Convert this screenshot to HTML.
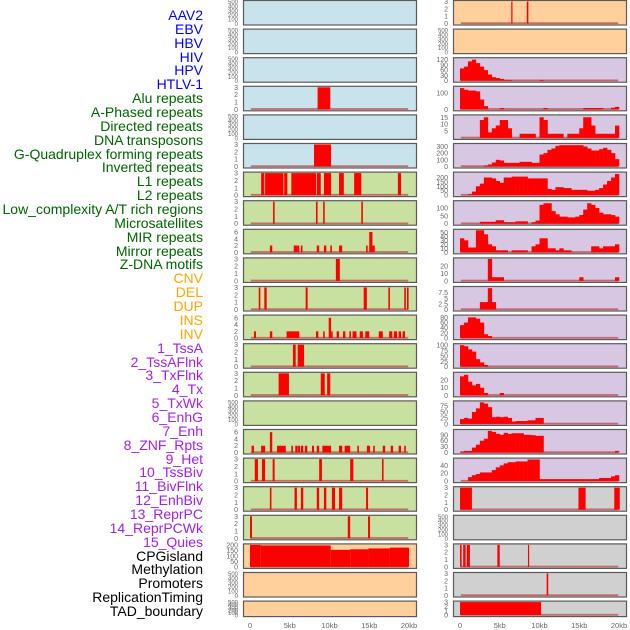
<!DOCTYPE html>
<html><head><meta charset="utf-8">
<style>
html,body{margin:0;padding:0;background:#fff;}
body{width:630px;height:630px;overflow:hidden;position:relative;font-family:"Liberation Sans",sans-serif;}
#labels div{position:absolute;right:427px;font-size:14px;line-height:14px;white-space:nowrap;}
svg{position:absolute;left:0;top:0;}
</style></head>
<body>
<div id="labels"></div>
<svg id="chart" width="630" height="630"></svg>
<script>
const trackNames = ["AAV2","EBV","HBV","HIV","HPV","HTLV-1","Alu repeats","A-Phased repeats","Directed repeats","DNA transposons","G-Quadruplex forming repeats","Inverted repeats","L1 repeats","L2 repeats","Low_complexity A/T rich regions","Microsatellites","MIR repeats","Mirror repeats","Z-DNA motifs","CNV","DEL","DUP","INS","INV","1_TssA","2_TssAFlnk","3_TxFlnk","4_Tx","5_TxWk","6_EnhG","7_Enh","8_ZNF_Rpts","9_Het","10_TssBiv","11_BivFlnk","12_EnhBiv","13_ReprPC","14_ReprPCWk","15_Quies","CPGisland","Methylation","Promoters","ReplicationTiming","TAD_boundary"];
const trackGroups = [0,0,0,0,0,0,1,1,1,1,1,1,1,1,1,1,1,1,1,2,2,2,2,2,3,3,3,3,3,3,3,3,3,3,3,3,3,3,3,4,4,4,4,4];
const groupColors = ["#0000ff","#006400","#ffa500","#a020f0","#000000"];

const xTicks = [0,5,10,15,20];
const xTickLabels = ["0","5kb","10kb","15kb","20kb"];

// left column
const leftBg = ["b","b","b","b","b","b","g","g","g","g","g","g","g","g","g","g","g","g","g","p","p","p"];
const leftYmax = [500,500,500,3,500,3,3,3,6.5,3,3,6.5,3,3,500,6.5,3,3,3,200,500,500];
const leftTicks = [[0,100,200,300,400,500],[0,100,200,300,400,500],[0,100,200,300,400,500],[0,1,2,3],[0,100,200,300,400,500],[0,1,2,3],[0,1,2,3],[0,1,2,3],[0,2,4,6],[0,1,2,3],[0,1,2,3],[0,2,4,6],[0,1,2,3],[0,1,2,3],[0,100,200,300,400,500],[0,2,4,6],[0,1,2,3],[0,1,2,3],[0,1,2,3],[0,50,100,150,200],[0,100,200,300,400,500],[0,100,200,300,400,500]];
const leftSegs = [
 [],[],[],
 [[8.5,10.1,3]],
 [],
 [[8.05,10.2,3]],
 [[1.4,1.8,3],[1.9,4.2,3],[4.3,4.7,3],[5.2,8.3,3],[8.4,8.9,3],[9.3,10.2,3],[11.2,11.8,3],[13.1,14,3],[18.6,19,3]],
 [[2.9,3.1,3],[8.3,8.5,3],[9.2,9.4,3],[14,14.2,3]],
 [[2.5,2.8,2],[5.5,6,2],[6,6.2,2],[6.4,6.6,2],[8.4,8.7,2],[9.3,9.6,2],[10.1,10.3,2],[11.2,11.6,2],[14.6,14.8,2],[15,15.4,6],[15.4,15.7,2]],
 [[10.8,11.3,3]],
 [[1.1,1.3,3],[1.8,2.1,3],[7,7.25,3],[14.3,14.7,3],[17.4,17.6,3],[19.4,19.6,3],[19.75,19.95,3]],
 [[0.5,0.75,2],[2.5,2.8,2],[4.6,6.2,2],[8.3,8.6,2],[9.2,9.4,2],[9.9,10.2,6],[10.2,10.4,2],[10.9,11.2,2],[11.7,12,2],[12.5,12.7,2],[12.9,13.4,2],[13.8,14.2,2],[14.5,15,2],[16.2,16.7,2],[17.5,17.9,2],[18.1,18.5,2],[18.7,19,2],[19.2,19.5,2]],
 [[5.4,5.75,3],[6,6.8,3]],
 [[3.6,4.9,3],[8.9,9.4,3],[9.7,10.1,3]],
 [],
 [[0.2,0.5,2],[1.4,1.9,2],[2.5,2.8,6],[3.4,4.5,2],[5.2,5.4,2],[5.7,6,2],[6.05,6.3,2],[6.4,6.7,2],[6.9,7.2,2],[7.8,8.05,2],[8.4,8.7,2],[9.1,10.2,2],[11.2,11.6,2],[11.9,12.6,2],[13.5,13.7,2],[14.7,15.1,2],[15.5,15.7,2],[16.7,17,2],[17.7,18,2],[18.7,19,2],[19.4,19.6,2]],
 [[0.6,1,3],[1.5,1.9,3],[2.85,3.1,3],[8.7,9.05,3],[12.6,13,3],[16.6,16.8,3]],
 [[2.5,2.7,3],[5.6,5.9,3],[6.4,6.7,3],[8.4,8.7,3],[9.3,9.6,3],[10.3,10.7,3],[11.2,11.6,3],[14.6,14.85,3]],
 [[0,0.25,3],[12.3,12.6,3],[14.85,15.1,3]],
 [[0,1.35,200],[1.35,10.15,195],[10.15,12.6,155],[12.6,14.9,160],[14.9,17.6,168],[17.6,20,175]],
 [],[]
];

// right column
const rightBg = ["p","p","l","l","l","l","l","l","l","l","l","l","l","l","l","l","l","y","y","y","y","y"];
const rightYmax = [3,500,125,135,16,330,250,140,55,30,9.8,85,102,29,92,112,56,3,500,3,3,3];
const rightTicks = [[0,1,2,3],[0,100,200,300,400,500],[0,30,60,90,120],[0,100],[5,10,15],[0,100,200,300],[0,50,100,150,200],[0,50,100],[0,10,20,30,40,50],[0,10,20],[0,2.5,5,7.5],[0,20,40,60,80],[0,25,50,75,100],[0,10,20],[0,25,50,75],[0,30,60,90],[0,20,40],[0,1,2,3],[0,100,200,300,400,500],[0,1,2,3],[0,1,2,3],[0,1,2,3]];
const rightSegs = {
 0:[[6.45,6.6,3],[8.4,8.6,3]],
 17:[[0,1.5,3],[14.9,15.8,3],[19.4,20.1,3]],
 19:[[0,0.2,3],[0.4,0.7,3],[0.85,1.25,3],[4.7,5,3],[8.55,8.7,3]],
 20:[[10.9,11.1,3]],
 21:[[0,10.2,3]]
};
// histogram values in 0.5kb bins (40 bins, 0-20kb)
const hist2 = [70,80,110,120,100,80,60,35,20,15,10,5,4,0,0,0,0,0,0,0,4,0,0,0,0,0,0,0,0,0,0,0,0,0,0,0,0,0,0,0];
const hist3 = [130,120,115,115,110,60,20,0,0,0,8,0,0,0,0,0,0,0,0,0,0,8,0,0,0,0,0,0,0,0,0,8,8,8,8,8,0,0,10,15];
const hist4 = [0,0,0,0,0,13,15,4,7,9,13,13,7,0,0,3,3,3,3,0,15,13,3,3,3,3,0,3,3,3,7,15,15,9,3,3,3,3,3,9];
const hist5 = [0,0,0,0,0,0,15,30,60,100,90,55,55,55,55,70,70,70,55,55,180,200,250,270,310,320,320,320,320,320,320,300,270,240,240,260,280,250,200,110];
const hist6 = [0,0,10,40,100,130,200,200,190,160,140,200,200,210,210,210,210,190,190,190,190,190,70,60,90,90,80,80,60,60,60,60,50,50,60,80,120,160,200,240];
const hist7 = [0,0,0,0,0,12,12,12,12,22,22,10,10,10,15,15,15,0,10,20,120,130,130,80,60,45,45,40,40,45,55,90,130,120,100,70,60,60,55,45];
const hist8 = [35,30,12,12,55,55,45,20,15,5,5,5,0,5,5,5,5,0,15,20,35,35,10,10,5,10,5,5,0,0,0,0,0,15,15,10,15,15,15,20];
const hist9 = [0,0,0,0,0,0,0,30,5,5,5,0,0,0,0,0,0,0,0,0,0,0,0,0,0,0,0,0,0,0,5,0,0,0,0,0,0,0,0,5];
const hist10 = [0,0,0,0,0,3.3,3.3,9.5,3.3,0,0,0,0,0,0,0,0,0,0,0,0,0,0,0,0,0,0,0,0,0,0,0,0,0,0,0,0,0,0,0];
const hist11 = [50,60,80,80,75,60,15,8,0,0,0,0,0,0,0,0,0,0,0,0,0,0,0,0,0,0,0,0,0,0,0,0,0,0,0,0,0,0,0,0];
const hist12 = [100,95,80,70,35,20,8,0,0,0,0,0,0,0,0,0,0,0,0,0,0,0,0,0,0,0,0,0,0,0,0,0,0,0,0,0,0,0,0,0];
const hist13 = [25,27,18,13,15,10,3,0,0,0,3,0,0,0,0,0,0,0,0,0,0,0,0,0,0,0,0,0,0,0,0,0,0,0,0,0,0,0,0,0];
const hist14 = [20,25,22,50,65,90,85,70,28,30,28,30,25,10,12,12,12,15,15,25,25,0,0,0,0,0,0,0,0,0,0,0,0,0,0,0,0,0,0,0];
const hist15 = [5,8,8,25,40,60,70,110,105,95,90,100,95,98,98,98,90,90,88,85,85,0,0,0,0,0,0,0,0,0,0,0,0,0,0,0,0,0,0,8];
const hist16 = [0,0,10,15,18,22,22,22,28,35,40,45,48,48,50,50,50,55,55,55,5,5,5,5,5,5,5,5,5,5,5,5,5,5,5,8,8,8,12,15];
const rightHists = {2:hist2,3:hist3,4:hist4,5:hist5,6:hist6,7:hist7,8:hist8,9:hist9,10:hist10,11:hist11,12:hist12,13:hist13,14:hist14,15:hist15,16:hist16};

const bgColors = {b:"#c8e3eb",g:"#c8e0a0",p:"#ffd09c",l:"#d7c7e3",y:"#d0d0d0"};
const NS = "http://www.w3.org/2000/svg";
const svg = document.getElementById("chart");
function rowTop(i){ return 0.5 + i*28.6; }
function rowH(i){ return i===21 ? 15.5 : 24.5; }
function xScale(col, kb){ return (col===0?250:460) + kb*7.95; }
function yScale(i, ymax, v){ const t=rowTop(i)+1, b=rowTop(i)+rowH(i)-1.5; return b - (v/ymax)*(b-t); }
function mk(tag, attrs){ const e=document.createElementNS(NS,tag); for(const k in attrs) e.setAttribute(k,attrs[k]); svg.appendChild(e); return e; }

// labels
const lab = document.getElementById("labels");
trackNames.forEach((n,i)=>{
  const d=document.createElement("div");
  d.textContent=n;
  d.style.top=(8+i*13.86)+"px";
  d.style.color=groupColors[trackGroups[i]];
  
  
  lab.appendChild(d);
});

function drawPanel(col, i, bg, ymax, ticks, segs, hist){
  const x0 = col===0?243:453;
  const top=rowTop(i), h=rowH(i);
  const r = mk("rect",{x:x0+0.5,y:top,width:173,height:h,fill:bgColors[bg],stroke:"#5a5a5a","stroke-width":1.2});
  
  
  ticks.forEach(tv=>{
    const t = mk("text",{x:x0-5,y:yScale(i,ymax,tv)+2.5,"font-size":ymax>=500?6:7,fill:"#666","text-anchor":"end","font-family":"Liberation Sans, sans-serif"});
    t.textContent = String(tv);
    
    
  });
  const hasData = (segs && segs.length) || hist;
  if(hasData){
    const bl = mk("rect",{x:xScale(col,0.1),y:yScale(i,ymax,0)-1.2,width:xScale(col,19.9)-xScale(col,0.1),height:1.8,fill:"#c05050",opacity:0.8});
    
    
  }
  if(segs) segs.forEach(s=>{
    const xa=xScale(col,s[0]), xb=xScale(col,s[1]), y=yScale(i,ymax,s[2]), yb=yScale(i,ymax,0);
    const b = mk("rect",{x:xa,y:y,width:Math.max(1,xb-xa),height:yb-y,fill:"#ff0000"});
    
    
  });
  if(hist) hist.forEach((v,k)=>{
    if(v<=0) return;
    const xa=xScale(col,k*0.5), xb=xScale(col,k*0.5+0.5), y=yScale(i,ymax,v), yb=yScale(i,ymax,0);
    const b = mk("rect",{x:xa,y:y,width:xb-xa+0.3,height:yb-y,fill:"#ff0000"});
    
    
  });
}
for(let i=0;i<22;i++){
  drawPanel(0,i,leftBg[i],leftYmax[i],leftTicks[i],leftSegs[i],null);
  drawPanel(1,i,rightBg[i],rightYmax[i],rightTicks[i],rightSegs[i]||null,rightHists[i]||null);
}
[0,1].forEach(col=>{
  xTicks.forEach((v,k)=>{
    const t = mk("text",{x:xScale(col,v),y:628,"font-size":7.5,fill:"#666","text-anchor":"middle","font-family":"Liberation Sans, sans-serif"});
    t.textContent = xTickLabels[k];
    
    
  });
});
</script>
</body></html>
